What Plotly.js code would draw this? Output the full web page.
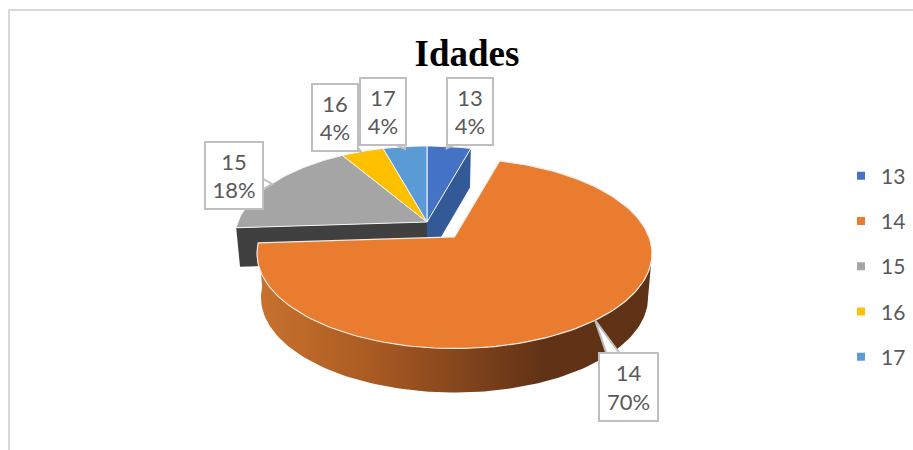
<!DOCTYPE html>
<html>
<head>
<meta charset="utf-8">
<script src="https://cdn.plot.ly/plotly-3.0.1.min.js"></script>
<style>html,body{margin:0;padding:0;background:#fff;overflow:hidden}</style>
</head>
<body>
<div id="chart" style="width:913px;height:450px"></div>
<script>
const categories = ['13', '14', '15', '16', '17'];
const percents = [4, 70, 18, 4, 4];
const colors = ['#4472c4', '#ea7c30', '#a5a5a5', '#ffc000', '#5b9bd5'];
const sideColors = ['#335a96', '#ea7c30', '#404040', '#bf9000', '#44749f'];
const labelBoxes = [[470, 111.5, 46, 67], [628.5, 387, 59, 68], [234, 175.5, 58, 67], [335, 117, 46, 67], [383, 111.5, 46, 67]];
const pointers = [
  'M447,148 L450,140 L465,140 Z',
  'M595,320 L608,358 L623,358 Z',
  'M272,184 L258,176 L258,192 Z',
  'M362,153 L354,142 L354,148 Z',
  'M405,149 L386,140 L404,140 Z'
];

// Pie projection: a tilted disc whose centre appears above the ellipse centre.
const tilt = 0.174;
function project(angleDeg, pie, lower) {
  const t = angleDeg * Math.PI / 180, sx = Math.sin(t), sy = Math.cos(t);
  let px = sx / (1 + 0.5 * tilt * sy), py = (sy + tilt) / (1 + tilt * sy);
  const n = Math.hypot(px, py);
  px /= n; py /= n;
  return lower
    ? [pie.cx + px * pie.rx * pie.sx, pie.cy + pie.depth - py * pie.ry]
    : [pie.cx + px * pie.rx, pie.cy - py * pie.ry];
}
function apex(pie, lower) {
  return lower
    ? [pie.cx, pie.cy + pie.depth - tilt * pie.ry]
    : [pie.cx, pie.cy - tilt * pie.ry];
}
function arc(a0, a1, pie, lower) {
  const n = Math.max(2, Math.ceil(Math.abs(a1 - a0) / 1.5)), pts = [];
  for (let i = 0; i <= n; i++) pts.push(project(a0 + (a1 - a0) * i / n, pie, lower));
  return pts;
}
function poly(pts, color, extra) {
  return Object.assign({
    type: 'scatter', mode: 'lines', x: pts.map(p => p[0]), y: pts.map(p => p[1]),
    fill: 'toself', fillcolor: color, line: {color: '#f4f4f4', width: 1},
    hoverinfo: 'skip', showlegend: false
  }, extra || {});
}

const mainPie = {cx: 427, cy: 238, rx: 192, ry: 92, sx: 0.98, depth: 39};
const outPie = {cx: 454.5, cy: 253.5, rx: 197.5, ry: 95, sx: 0.98, depth: 44};

const total = percents.reduce((a, b) => a + b, 0);
let acc = 0;
const spans = percents.map(v => { const s = [acc, acc + v * 360 / total]; acc = s[1]; return s; });

const traces = [];
// cut faces seen behind the pulled-out slice
const s13 = spans[0], s15 = spans[2];
traces.push(poly([apex(mainPie), project(s13[1], mainPie), project(s13[1], mainPie, true), apex(mainPie, true)],
  sideColors[0], {line: {width: 0}}));
traces.push(poly([apex(mainPie), project(s15[0], mainPie), project(s15[0], mainPie, true), apex(mainPie, true)],
  sideColors[2], {line: {width: 0}}));
// top faces of the slices that stay in place
[0, 2, 3, 4].forEach(i => {
  traces.push(poly([apex(mainPie)].concat(arc(spans[i][0], spans[i][1], mainPie), [apex(mainPie)]), colors[i]));
});
// rim of the pulled-out slice
const s14 = spans[1];
traces.push(poly(arc(100, s14[1], outPie).concat(arc(100, s14[1], outPie, true).reverse()), '#c8722e', {
  line: {width: 0},
  fillgradient: {type: 'horizontal', colorscale: [[0, '#c8722e'], [0.28, '#ab5c22'], [0.55, '#7d421b'], [0.72, '#613316'], [1, '#5f3215']]}
}));
traces.push(poly([apex(outPie)].concat(arc(s14[0], s14[1], outPie), [apex(outPie)]), colors[1], {line: {color: '#f4ece6', width: 1.2}}));
// legend entries
categories.forEach((c, i) => {
  traces.push({type: 'scatter', mode: 'markers', x: [null], y: [null], name: c, legendgroup: c,
    marker: {symbol: 'square', size: 8, color: colors[i]}, hoverinfo: 'skip'});
});

const font = 'Lato, "Open Sans", sans-serif';
const annotations = categories.map((c, i) => ({
  xref: 'x', yref: 'y', x: labelBoxes[i][0], y: labelBoxes[i][1],
  width: labelBoxes[i][2] - 4, height: labelBoxes[i][3] - 4, borderpad: 1,
  text: c + '<br>' + percents[i] + '%', showarrow: false, align: 'center', valign: 'middle',
  bgcolor: '#ffffff', bordercolor: '#bfbfbf', borderwidth: 2,
  font: {family: font, size: 22, color: '#595959'}
}));

const shapes = [
  {type: 'line', xref: 'x', yref: 'y', x0: 8, x1: 913, y0: 10, y1: 10, line: {color: '#d9d9d9', width: 2}},
  {type: 'line', xref: 'x', yref: 'y', x0: 9, x1: 9, y0: 10, y1: 450, line: {color: '#d9d9d9', width: 2}}
].concat(pointers.map(p => ({type: 'path', xref: 'x', yref: 'y', path: p, fillcolor: '#ffffff',
  line: {color: '#bfbfbf', width: 2}, layer: 'above'})));

const layout = {
  width: 913, height: 450, margin: {l: 0, r: 0, t: 0, b: 0},
  paper_bgcolor: '#ffffff', plot_bgcolor: '#ffffff',
  title: {text: '<b>Idades</b>', x: 467 / 913, xref: 'paper', xanchor: 'center', y: 1 - 53 / 450, yref: 'paper', yanchor: 'middle',
    font: {family: '"Liberation Serif", serif', size: 37, color: '#000000'}},
  xaxis: {range: [0, 913], visible: false, fixedrange: true},
  yaxis: {range: [450, 0], visible: false, fixedrange: true},
  showlegend: true,
  legend: {x: 841 / 913, xanchor: 'left', y: 1 - 155.5 / 450, yanchor: 'top', tracegroupgap: 15, bgcolor: 'rgba(0,0,0,0)',
    itemwidth: 30, font: {family: font, size: 21, color: '#595959'}},
  annotations: annotations, shapes: shapes
};
Plotly.newPlot('chart', traces, layout, {displayModeBar: false, staticPlot: true});
</script>
</body>
</html>
